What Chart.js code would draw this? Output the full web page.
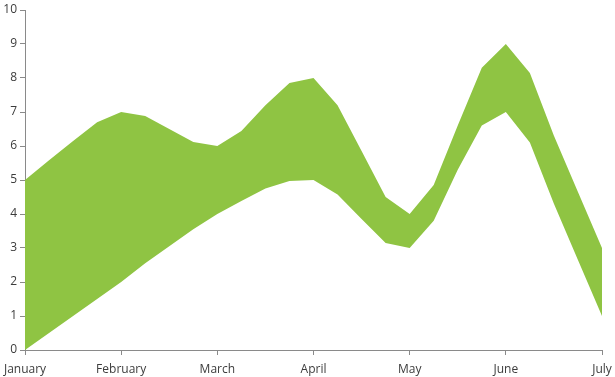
<!DOCTYPE html>
<html>
<head>
<meta charset="utf-8">
<script src="https://cdn.jsdelivr.net/npm/chart.js@4/dist/chart.umd.min.js"></script>
<style>
  html, body { margin: 0; padding: 0; background: #fff; }
  #wrap { width: 615px; height: 377px; position: relative; }
</style>
</head>
<body>
<div id="wrap"><canvas id="c"></canvas></div>
<script>
const categories = [
  'January','','','',
  'February','','','',
  'March','','','',
  'April','','','',
  'May','','','',
  'June','','','',
  'July'
];
const highValues = [5.0, 5.58, 6.15, 6.7, 7.0, 6.88, 6.5, 6.12, 6.0, 6.44, 7.2, 7.85, 8.0, 7.2, 5.85, 4.5, 4.0, 4.85, 6.6, 8.3, 9.0, 8.15, 6.3, 4.65, 3.0];
const lowValues  = [0.0, 0.5, 1.0, 1.5, 2.0, 2.55, 3.05, 3.55, 4.0, 4.38, 4.75, 4.97, 5.0, 4.57, 3.85, 3.15, 3.0, 3.8, 5.3, 6.6, 7.0, 6.1, 4.3, 2.65, 1.0];
const yTicks = [0,1,2,3,4,5,6,7,8,9,10];

const green = '#8FC443';
const axisColor = '#8a8a8a';
const textColor = '#3c3c3c';

new Chart(document.getElementById('c'), {
  type: 'line',
  data: {
    labels: categories,
    datasets: [
      { label: 'High', data: highValues, borderWidth: 0, borderColor: green, backgroundColor: green, pointRadius: 0, fill: '+1', tension: 0 },
      { label: 'Low', data: lowValues, borderWidth: 0, borderColor: green, backgroundColor: green, pointRadius: 0, fill: false, tension: 0 }
    ]
  },
  options: {
    responsive: true,
    maintainAspectRatio: false,
    animation: false,
    layout: { padding: { top: 10, right: 13, left: 0, bottom: 0 } },
    plugins: { legend: { display: false }, tooltip: { enabled: false } },
    scales: {
      x: {
        offset: false,
        grid: {
          drawOnChartArea: false,
          drawTicks: true,
          tickLength: 5,
          color: (ctx) => (ctx.index % 4 === 0 ? axisColor : 'rgba(0,0,0,0)')
        },
        border: { display: true, color: axisColor, width: 1 },
        ticks: {
          autoSkip: false,
          maxRotation: 0,
          padding: 7,
          color: textColor,
          font: { family: '"Open Sans", "Noto Sans", sans-serif', size: 12 }
        },
        afterFit: (s) => { s.height = 27; s.paddingLeft = 0; s.paddingRight = 0; }
      },
      y: {
        min: 0,
        max: 10,
        afterBuildTicks: (s) => { s.ticks = yTicks.map(v => ({ value: v })); },
        grid: { drawOnChartArea: false, drawTicks: true, tickLength: 5, color: axisColor },
        border: { display: true, color: axisColor, width: 1 },
        ticks: {
          padding: 3,
          color: textColor,
          font: { family: '"Open Sans", "Noto Sans", sans-serif', size: 12 }
        },
        afterFit: (s) => { s.width = 25; s.paddingTop = 0; s.paddingBottom = 0; }
      }
    }
  }
});
</script>
</body>
</html>
